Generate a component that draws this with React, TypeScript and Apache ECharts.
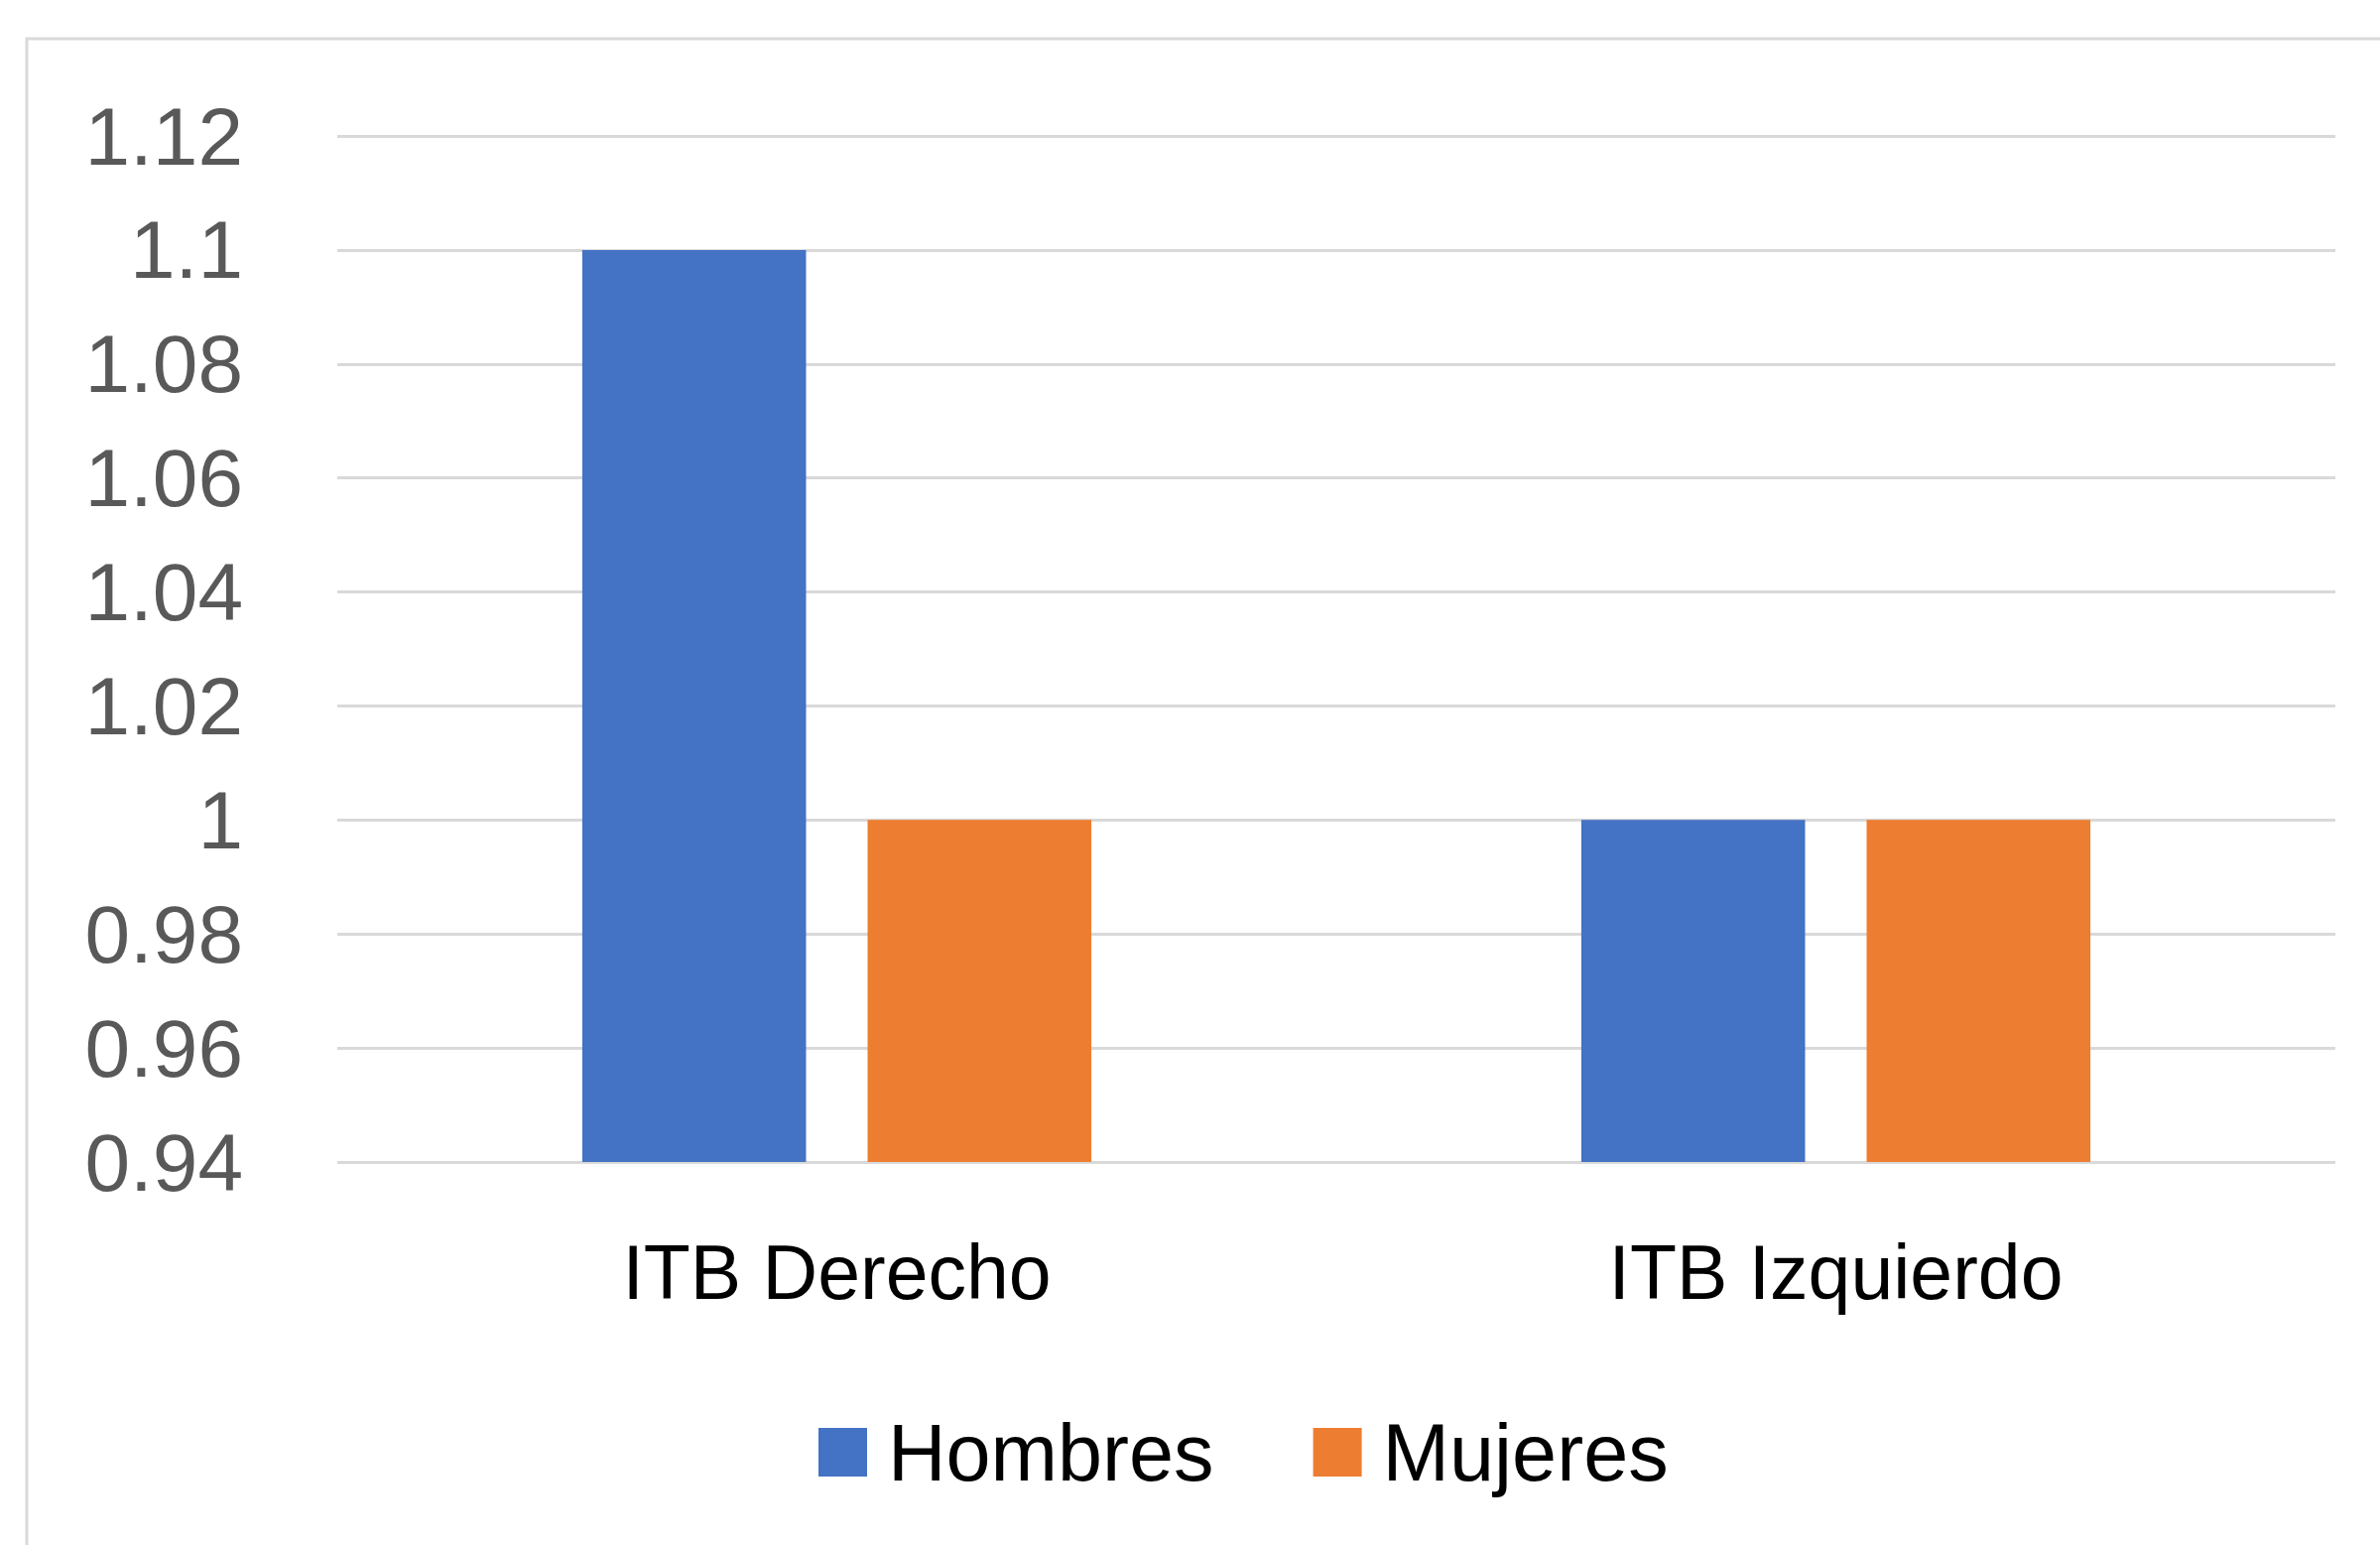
import React, { useEffect, useRef } from "react";
import * as echarts from "echarts";

const categories = ["ITB Derecho", "ITB Izquierdo"];
const hombres = [1.1, 1.0];
const mujeres = [1.0, 1.0];
const seriesNames = ["Hombres", "Mujeres"];

export default function App() {
  const ref = useRef<HTMLDivElement>(null);
  useEffect(() => {
    if (!ref.current) return;
    const chart = echarts.init(ref.current, null, { renderer: "svg" });
    const font = "Liberation Sans, Arial, sans-serif";
    chart.setOption({
      animation: false,
      backgroundColor: "#ffffff",
      graphic: [
        {
          type: "rect",
          shape: { x: 27, y: 39, width: 2420, height: 1600 },
          style: { fill: "none", stroke: "#d9d9d9", lineWidth: 3 },
          silent: true,
        },
      ],
      grid: { left: 340, right: 2399 - 2354, top: 137, bottom: 1557 - 1171 },
      legend: {
        data: seriesNames,
        left: 820,
        top: 1418,
        icon: "rect",
        itemWidth: 49,
        itemHeight: 49,
        itemGap: 100,
        textStyle: {
          fontFamily: font,
          fontSize: 81,
          color: "#000000",
          lineHeight: 81,
          padding: [0, 0, 0, 16],
        },
      },
      xAxis: {
        type: "category",
        data: categories,
        axisLine: { show: false },
        axisTick: { show: false },
        axisLabel: {
          fontFamily: font,
          fontSize: 77,
          lineHeight: 77,
          color: "#000000",
          margin: 72,
        },
      },
      yAxis: {
        type: "value",
        min: 0.94,
        max: 1.12,
        interval: 0.02,
        axisLine: { show: false },
        axisTick: { show: false },
        splitLine: { lineStyle: { color: "#d9d9d9", width: 3 } },
        axisLabel: {
          fontFamily: font,
          fontSize: 82,
          color: "#595959",
          margin: 95,
          formatter: (v: number) => String(parseFloat(v.toFixed(2))),
        },
      },
      series: [
        {
          name: seriesNames[0],
          type: "bar",
          data: hombres,
          barWidth: "22.4%",
          barGap: "27.5%",
          itemStyle: { color: "#4472C4" },
        },
        {
          name: seriesNames[1],
          type: "bar",
          data: mujeres,
          barWidth: "22.4%",
          barGap: "27.5%",
          itemStyle: { color: "#ED7D31" },
        },
      ],
    });
    return () => chart.dispose();
  }, []);
  return (
    <div
      ref={ref}
      style={{ position: "fixed", left: 0, top: 0, width: 2399, height: 1557 }}
    />
  );
}
